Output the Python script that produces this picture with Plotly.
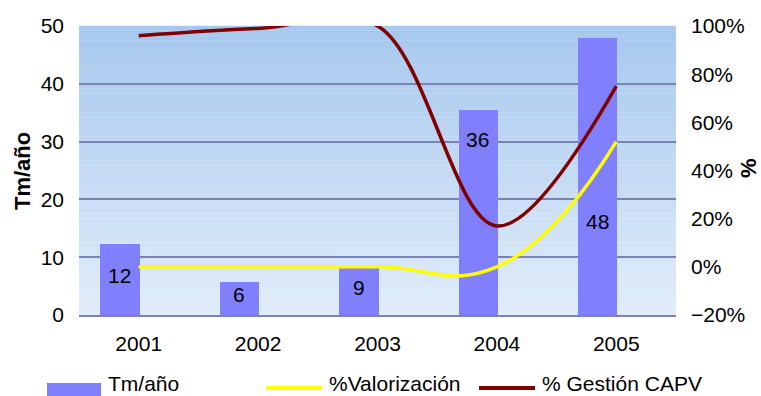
import plotly.graph_objects as go

# Data
years = ["2001", "2002", "2003", "2004", "2005"]
tm_ano = [12.3, 5.7, 8.6, 35.5, 47.9]          # Tm/año (bars, left axis)
valorizacion = [0, 0, 0, 0, 52]                # %Valorización (right axis)
gestion_capv = [96, 99, 100, 17, 75]           # % Gestión CAPV (right axis)
label_y = [6.9, 3.6, 4.8, 30.3, 16.1]          # vertical placement of bar value labels

FONT = "Arial, Liberation Sans, sans-serif"
BAR_COLOR = "#8080ff"
YELLOW = "#ffff00"
DARK_RED = "#800000"
GRID = "#7a82b6"

W, H = 761, 396
ML, MR, MT, MB = 79, 85, 26, 81
PW, PH = W - ML - MR, H - MT - MB


def px_to_paper(px, py):
    return (px - ML) / PW, (H - MB - py) / PH


fig = go.Figure()

fig.add_trace(go.Bar(
    x=years, y=tm_ano, name="Tm/año",
    marker=dict(color=BAR_COLOR, line=dict(width=0)),
    width=0.33, offset=-0.32,
    yaxis="y", showlegend=False,
))

fig.add_trace(go.Scatter(
    x=years, y=valorizacion, name="%Valorización", mode="lines",
    line=dict(color=YELLOW, width=3.5, shape="spline", smoothing=1.3),
    yaxis="y2", showlegend=False,
))

fig.add_trace(go.Scatter(
    x=years, y=gestion_capv, name="% Gestión CAPV", mode="lines",
    line=dict(color=DARK_RED, width=3.5, shape="spline", smoothing=1),
    yaxis="y2", showlegend=False,
))

# Vertical gradient behind the plot area
shapes = []
n_bands = 60
top_rgb = (166, 200, 238)
bot_rgb = (225, 236, 249)
for i in range(n_bands):
    t = i / (n_bands - 1)
    r, g, b = (round(top_rgb[k] + (bot_rgb[k] - top_rgb[k]) * t) for k in range(3))
    y1 = 1 - i / n_bands
    y0 = 1 - (i + 1) / n_bands
    shapes.append(dict(
        type="rect", xref="x domain", yref="y domain",
        x0=0, x1=1, y0=y0, y1=y1 + 0.001,
        fillcolor=f"rgb({r},{g},{b})", line=dict(width=0), layer="below",
    ))

annotations = []

# Bar value labels (category index positions, shifted onto the bar centre)
for i, (v, ly) in enumerate(zip(tm_ano, label_y)):
    annotations.append(dict(
        x=i, y=ly, xref="x", yref="y", text=f"{v:.0f}", showarrow=False,
        xshift=-19, font=dict(family=FONT, size=21, color="black"),
    ))

# Axis titles
ax, ay = px_to_paper(22, 171)
annotations.append(dict(x=ax, y=ay, xref="paper", yref="paper", text="<b>Tm/año</b>",
                        textangle=-90, showarrow=False,
                        xanchor="center", yanchor="middle",
                        font=dict(family=FONT, size=22, color="black")))
ax, ay = px_to_paper(748, 168)
annotations.append(dict(x=ax, y=ay, xref="paper", yref="paper", text="<b>%</b>",
                        textangle=-90, showarrow=False,
                        xanchor="center", yanchor="middle",
                        font=dict(family=FONT, size=22, color="black")))

# Legend drawn along the bottom
legend_items = [
    ("box", BAR_COLOR, 47, 101, 107, "Tm/año"),
    ("line", YELLOW, 266, 322, 328, "%Valorización"),
    ("line", DARK_RED, 479, 535, 541, "% Gestión CAPV"),
]
for kind, color, sx0, sx1, tx, label in legend_items:
    x0, _ = px_to_paper(sx0, 0)
    x1, _ = px_to_paper(sx1, 0)
    if kind == "box":
        _, y0 = px_to_paper(0, 402)
        _, y1 = px_to_paper(0, 383)
        shapes.append(dict(type="rect", xref="paper", yref="paper",
                           x0=x0, x1=x1, y0=y0, y1=y1,
                           fillcolor=color, line=dict(width=0)))
    else:
        _, yl = px_to_paper(0, 388)
        shapes.append(dict(type="line", xref="paper", yref="paper",
                           x0=x0, x1=x1, y0=yl, y1=yl,
                           line=dict(color=color, width=4)))
    xt, yt = px_to_paper(tx, 383)
    annotations.append(dict(x=xt, y=yt, xref="paper", yref="paper", text=label,
                            xanchor="left", yanchor="middle", showarrow=False,
                            borderpad=0,
                            font=dict(family=FONT, size=21, color="black")))

fig.update_layout(
    width=W, height=H,
    margin=dict(l=ML, r=MR, t=MT, b=MB, pad=0),
    paper_bgcolor="white",
    plot_bgcolor="rgba(0,0,0,0)",
    font=dict(family=FONT, size=21, color="black"),
    showlegend=False,
    bargap=0,
    xaxis=dict(
        type="category", range=[-0.5, 4.5],
        showgrid=False, showline=True, linecolor=GRID, linewidth=1.5,
        ticks="", ticklabelstandoff=9,
        tickfont=dict(family=FONT, size=21, color="black"),
    ),
    yaxis=dict(
        range=[0, 50], dtick=10, tick0=0,
        showgrid=True, gridcolor=GRID, gridwidth=1.5,
        zeroline=False, showline=False,
        ticks="", ticklabelstandoff=14,
        tickfont=dict(family=FONT, size=21, color="black"),
    ),
    yaxis2=dict(
        range=[-20, 100], dtick=20, tick0=0,
        overlaying="y", side="right",
        showgrid=False, zeroline=False, showline=False,
        ticks="", ticksuffix="%", ticklabelstandoff=14,
        tickfont=dict(family=FONT, size=21, color="black"),
    ),
    shapes=shapes,
    annotations=annotations,
)

fig.write_html("out.html")
